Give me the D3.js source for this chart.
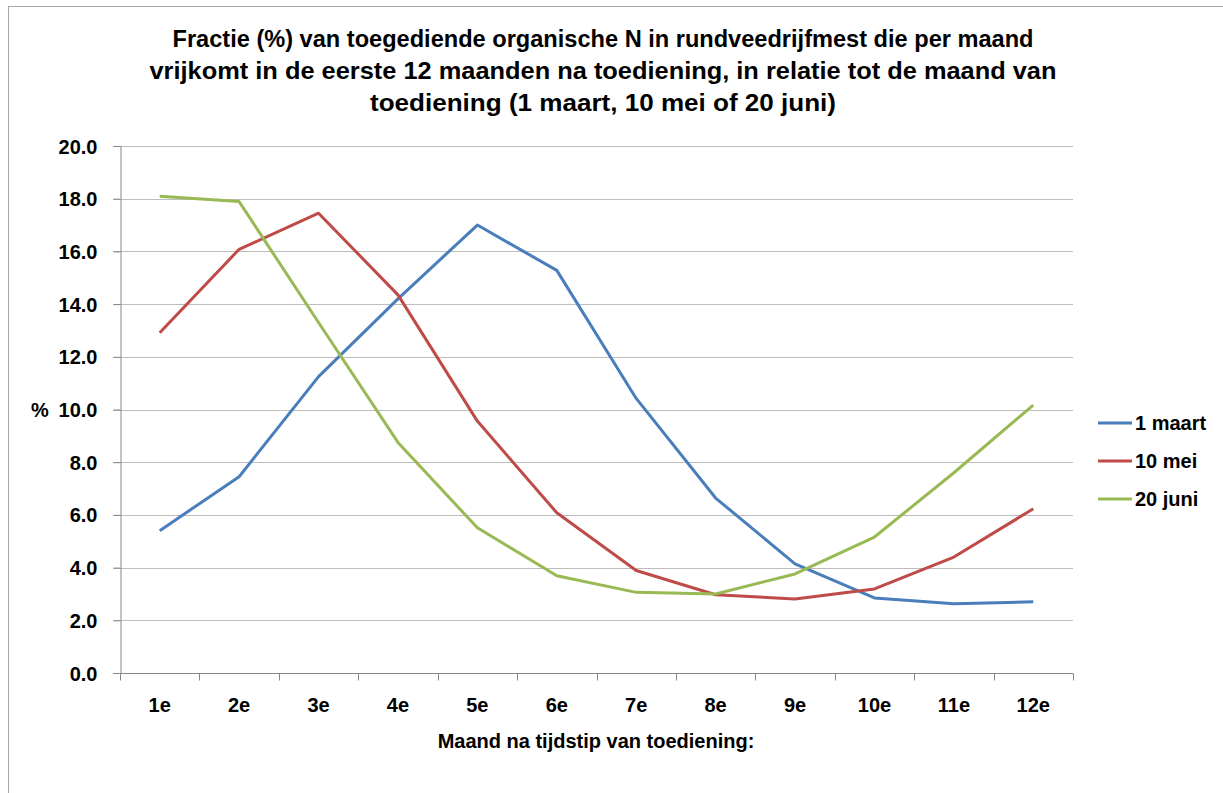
<!DOCTYPE html>
<html>
<head>
<meta charset="utf-8">
<script src="https://cdn.jsdelivr.net/npm/d3@7"></script>
<style>
  body { margin: 0; background: #fff; }
  svg { display: block; font-family: 'Liberation Sans', Arial, sans-serif; font-weight: bold; }
</style>
</head>
<body>
<svg id="chart"></svg>
<script>
const months = ['1e', '2e', '3e', '4e', '5e', '6e', '7e', '8e', '9e', '10e', '11e', '12e'];
const maart = [5.4, 7.45, 11.25, 14.2, 17.0, 15.28, 10.42, 6.64, 4.14, 2.85, 2.63, 2.70];
const mei = [12.91, 16.08, 17.45, 14.35, 9.56, 6.08, 3.89, 2.97, 2.81, 3.19, 4.40, 6.23];
const juni = [18.09, 17.89, 13.3, 8.75, 5.51, 3.69, 3.06, 3.0, 3.76, 5.16, 7.6, 10.17];
const seriesNames = ['1 maart', '10 mei', '20 juni'];
const seriesColors = ['#4A7EBB', '#BE4B48', '#98B954'];
const yTicks = [0, 2, 4, 6, 8, 10, 12, 14, 16, 18, 20];
const titleLines = [
  'Fractie (%) van toegediende organische N in rundveedrijfmest die per maand',
  'vrijkomt in de eerste 12 maanden na toediening, in relatie tot de maand van',
  'toediening (1 maart, 10 mei of 20 juni)'
];

const width = 1223, height = 793;
const margin = { top: 146, right: 150, bottom: 120, left: 120 };
const plotW = 1073 - margin.left;
const plotH = 673 - margin.top;

const svg = d3.select('#chart').attr('width', width).attr('height', height);

// outer chart border
svg.append('rect')
  .attr('x', 8.5).attr('y', 6.5)
  .attr('width', 1300).attr('height', 900)
  .attr('fill', 'none').attr('stroke', '#a6a6a6').attr('stroke-width', 1);

// title
const titleWidths = [861, 907, 466];
svg.append('g').selectAll('text')
  .data(titleLines)
  .enter()
  .append('text')
  .attr('x', 603)
  .attr('y', (d, i) => 47 + i * 32)
  .attr('text-anchor', 'middle')
  .attr('textLength', (d, i) => titleWidths[i])
  .attr('lengthAdjust', 'spacingAndGlyphs')
  .style('font-size', '23px')
  .style('fill', '#000')
  .text((d) => d);

const g = svg.append('g').attr('transform', `translate(${margin.left},${margin.top})`);

const x = d3.scaleBand().domain(months).range([0, plotW]);
const y = d3.scaleLinear().domain([0, 20]).range([plotH, 0]);

// gridlines
g.append('g').selectAll('line')
  .data(yTicks.filter((d) => d > 0))
  .enter()
  .append('line')
  .attr('x1', -7).attr('x2', plotW)
  .attr('y1', (d) => Math.round(y(d)) + 0.5)
  .attr('y2', (d) => Math.round(y(d)) + 0.5)
  .attr('stroke', '#bdbdbd').attr('stroke-width', 1);

// y axis
const yAxis = g.append('g')
  .attr('transform', 'translate(0.5,0)')
  .call(d3.axisLeft(y).tickValues(yTicks).tickFormat(d3.format('.1f')).tickSize(7).tickPadding(16));
yAxis.select('.domain').attr('stroke', '#868686');
yAxis.selectAll('.tick line').attr('stroke', '#868686');
yAxis.selectAll('.tick text').style('font-size', '20px').style('fill', '#000')
  .attr('font-family', null).attr('dy', '0.35em');

// x axis
const xAxis = g.append('g')
  .attr('transform', `translate(0,${Math.round(plotH) + 0.5})`)
  .call(d3.axisBottom(x).tickSize(0).tickPadding(24));
xAxis.select('.domain').attr('stroke', '#868686').attr('d', `M-7,0H${plotW}`);
xAxis.selectAll('.tick text').style('font-size', '20px').style('fill', '#000').attr('font-family', null);
xAxis.append('g').selectAll('line')
  .data(d3.range(months.length + 1))
  .enter()
  .append('line')
  .attr('x1', (d) => Math.round(d * x.step()) + 0.5)
  .attr('x2', (d) => Math.round(d * x.step()) + 0.5)
  .attr('y1', 0).attr('y2', 7)
  .attr('stroke', '#868686');

// axis titles
svg.append('text')
  .attr('x', 596).attr('y', 748)
  .attr('text-anchor', 'middle')
  .style('font-size', '20px')
  .text('Maand na tijdstip van toediening:');

svg.append('text')
  .attr('x', 40).attr('y', 417)
  .attr('text-anchor', 'middle')
  .style('font-size', '20px')
  .text('%');

// lines
const allSeries = [maart, mei, juni];
const line = d3.line()
  .x((d, i) => x(months[i]) + x.bandwidth() / 2)
  .y((d) => y(d));

g.append('g').selectAll('path')
  .data(allSeries)
  .enter()
  .append('path')
  .attr('d', line)
  .attr('fill', 'none')
  .attr('stroke', (d, i) => seriesColors[i])
  .attr('stroke-width', 3)
  .attr('stroke-linejoin', 'round');

// legend
const legend = svg.append('g').attr('transform', 'translate(1098,423)');
legend.selectAll('line')
  .data(seriesNames)
  .enter()
  .append('line')
  .attr('x1', 0).attr('x2', 34)
  .attr('y1', (d, i) => i * 38).attr('y2', (d, i) => i * 38)
  .attr('stroke', (d, i) => seriesColors[i])
  .attr('stroke-width', 3);
legend.selectAll('text')
  .data(seriesNames)
  .enter()
  .append('text')
  .attr('x', 37)
  .attr('y', (d, i) => i * 38)
  .attr('dy', '0.35em')
  .style('font-size', '20px')
  .text((d) => d);
</script>
</body>
</html>
